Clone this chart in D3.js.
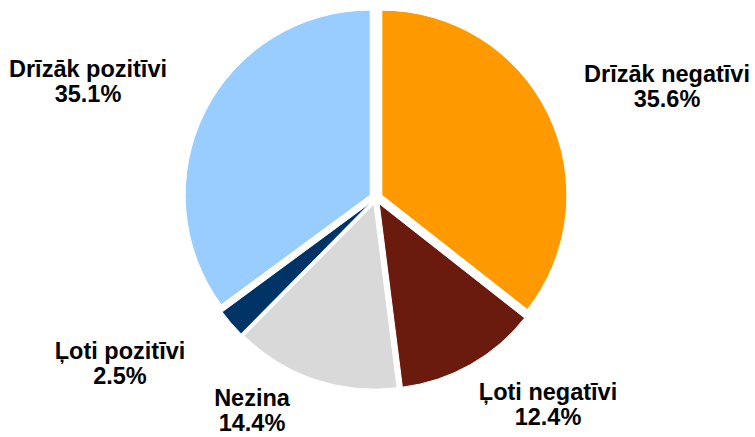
<!DOCTYPE html>
<html>
<head>
<meta charset="utf-8">
<script src="https://cdn.jsdelivr.net/npm/d3@7"></script>
<style>
  html, body { margin: 0; padding: 0; background: #fff; }
  svg { display: block; }
</style>
</head>
<body>
<div id="chart"></div>
<script>
// slices, clockwise from 12 o'clock
var categories = ["Drīzāk negatīvi", "Ļoti negatīvi", "Nezina", "Ļoti pozitīvi", "Drīzāk pozitīvi"];
var values = [35.6, 12.4, 14.4, 2.5, 35.1];
var valueLabels = ["35.6%", "12.4%", "14.4%", "2.5%", "35.1%"];
var colors = ["#ff9900", "#6a1b0e", "#d9d9d9", "#003366", "#99ccff"];

var width = 755,
  height = 437;
var cx = 376,
  cy = 198,
  radius = 185,
  explode = 6.5;

// label anchors (centre x, first baseline), same order as categories
var labelPos = [
  [667, 82],
  [548, 400],
  [252, 406],
  [120, 359],
  [88, 77],
];

var svg = d3
  .select("#chart")
  .append("svg")
  .attr("width", width)
  .attr("height", height);

var pie = d3
  .pie()
  .sort(null)
  .value((d) => d);

var arc = d3.arc().innerRadius(0).outerRadius(radius);

var slices = pie(values);

var g = svg.append("g").attr("transform", `translate(${cx},${cy})`);

// Each slice pulled out along its bisector.
g.selectAll("path")
  .data(slices)
  .join("path")
  .attr("d", arc)
  .attr("fill", (d, i) => colors[i])
  .attr("stroke", "#fff")
  .attr("stroke-width", 1)
  .attr("transform", function (d) {
    var mid = (d.startAngle + d.endAngle) / 2;
    return `translate(${Math.sin(mid) * explode},${-Math.cos(mid) * explode})`;
  });

// Data labels: category name and share.
var labels = svg
  .append("g")
  .attr("font-family", "Arial, 'Liberation Sans', sans-serif")
  .attr("font-weight", "bold")
  .attr("font-size", 23.5)
  .attr("fill", "#000")
  .attr("text-anchor", "middle");

categories.forEach(function (c, i) {
  var t = labels
    .append("text")
    .attr("x", labelPos[i][0])
    .attr("y", labelPos[i][1]);
  t.append("tspan").attr("x", labelPos[i][0]).text(c);
  t.append("tspan").attr("x", labelPos[i][0]).attr("dy", 25).text(valueLabels[i]);
});
</script>
</body>
</html>
